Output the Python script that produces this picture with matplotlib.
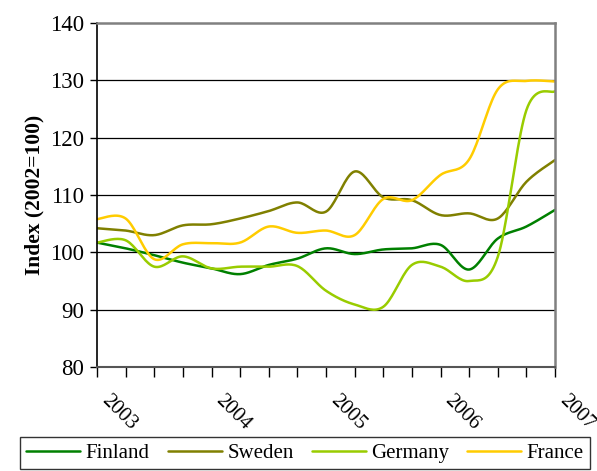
import numpy as np
import matplotlib.pyplot as plt

plt.rcParams['font.family'] = ['Liberation Serif', 'DejaVu Serif']

# quarterly index values, 2003Q1 .. 2007Q1
quarters = [2003 + i / 4 for i in range(17)]
finland = [101.7, 100.7, 99.5, 98.2, 97.2, 96.2, 97.8, 98.9, 100.7, 99.7,
           100.5, 100.7, 101.3, 97.0, 102.4, 104.5, 107.4]
sweden = [104.2, 103.8, 103.0, 104.7, 104.9, 105.9, 107.2, 108.7, 107.1, 114.1,
          109.6, 109.1, 106.5, 106.8, 105.9, 112.3, 116.1]
germany = [101.7, 102.1, 97.5, 99.3, 97.2, 97.5, 97.5, 97.6, 93.3, 90.9,
           90.5, 97.8, 97.5, 95.0, 99.2, 124.8, 128.1]
france = [105.8, 105.9, 98.8, 101.4, 101.6, 101.7, 104.5, 103.4, 103.8, 103.0,
          109.3, 109.1, 113.5, 116.2, 128.4, 129.9, 129.8]

series = [('Finland', finland, '#008000'),
          ('Sweden', sweden, '#808000'),
          ('Germany', germany, '#99CC00'),
          ('France', france, '#FFCC00')]


def smooth(x, y, n=20):
    # cardinal spline through the points, like a spreadsheet "smoothed line"
    x = np.asarray(x, float)
    y = np.asarray(y, float)
    px = np.concatenate([[x[0]], x, [x[-1]]])
    py = np.concatenate([[y[0]], y, [y[-1]]])
    t = np.linspace(0, 1, n, endpoint=False)
    xs, ys = [], []
    for i in range(1, len(px) - 2):
        for p, out in ((px, xs), (py, ys)):
            p0, p1, p2, p3 = p[i - 1], p[i], p[i + 1], p[i + 2]
            m1 = (p2 - p0) / 2
            m2 = (p3 - p1) / 2
            h00 = 2 * t**3 - 3 * t**2 + 1
            h10 = t**3 - 2 * t**2 + t
            h01 = -2 * t**3 + 3 * t**2
            h11 = t**3 - t**2
            out.extend(h00 * p1 + h10 * m1 + h01 * p2 + h11 * m2)
    xs.append(x[-1])
    ys.append(y[-1])
    return xs, ys


fig = plt.figure(figsize=(5.97, 4.71), dpi=100)
ax = fig.add_axes([97 / 597, 1 - 367 / 471, 458 / 597, 344 / 471])

for name, vals, color in series:
    sx, sy = smooth(quarters, vals)
    ax.plot(sx, sy, color=color, lw=1.8, label=name, solid_capstyle='round')

ax.set_xlim(2003, 2007)
ax.set_ylim(80, 140)
ax.set_yticks(range(80, 141, 10))
ax.set_xticks(quarters)
ax.set_xticklabels([])
for yr in range(2003, 2008):
    ax.text(yr + 0.12, 75.8, str(yr), rotation=-45, ha='left', va='top',
            fontsize=15, rotation_mode='anchor')

for v in range(90, 140, 10):
    ax.axhline(v, color='black', lw=0.9, zorder=0)

ax.tick_params(axis='y', labelsize=16.5, length=5, width=1, pad=4)
ax.tick_params(axis='x', length=7, width=1, direction='out')
ax.spines['left'].set_color('black')
ax.spines['left'].set_linewidth(1.2)
ax.spines['bottom'].set_color('#555555')
ax.spines['bottom'].set_linewidth(1.5)
for s in ('top', 'right'):
    ax.spines[s].set_color('#808080')
    ax.spines[s].set_linewidth(1.8)

ax.set_ylabel('Index (2002=100)', fontsize=15.5, fontweight='bold', labelpad=4)

top = 1 - 437 / 471
leg = fig.legend(loc='upper left',
                 bbox_to_anchor=(20 / 597, top - 0.07, 570 / 597, 0.07),
                 mode='expand', ncol=4, fontsize=15, frameon=True,
                 fancybox=False, edgecolor='black', handlelength=2.6,
                 columnspacing=0.6, handletextpad=0.25, borderpad=0.3,
                 borderaxespad=0)
leg.get_frame().set_linewidth(1.0)

fig.savefig('out.png', dpi=100)
